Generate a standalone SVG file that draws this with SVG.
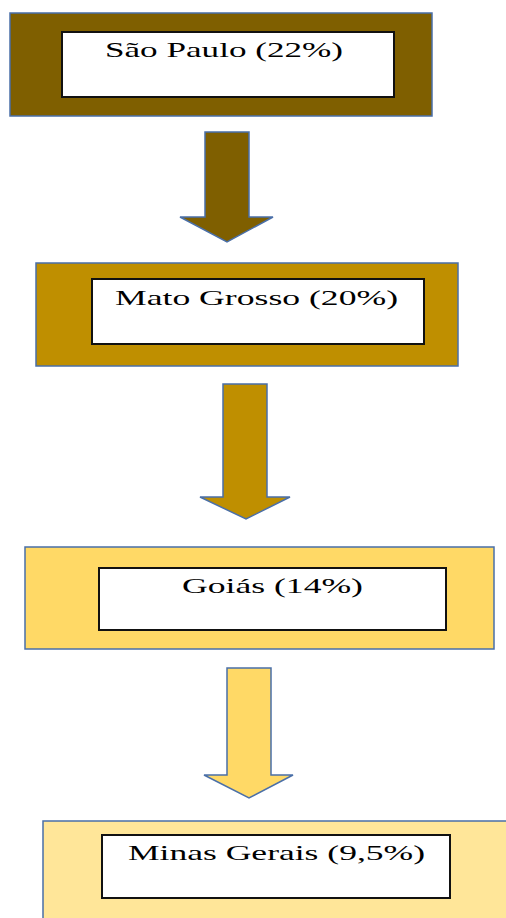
<svg xmlns="http://www.w3.org/2000/svg" width="506" height="918" viewBox="0 0 506 918">
<defs>
<style>
.outer{stroke:#4A6FA8;stroke-width:1.5}
.inner{fill:#ffffff;stroke:#111111;stroke-width:2}
.arrow{stroke:#4A6FA8;stroke-width:1.5;stroke-linejoin:miter}
</style>
</defs>
<rect width="506" height="918" fill="#ffffff"/>
<g id="connectors">
<path class="arrow" fill="#7F5F00" d="M205,132 H249 V217 H273 L227,242 L180,217 H205 Z"/>
<path class="arrow" fill="#BF8F00" d="M223,384 H267 V497 H290 L246,519 L200,497 H223 Z"/>
<path class="arrow" fill="#FFD966" d="M227,668 H271 V775 H293 L249,798 L204,775 H227 Z"/>
</g>
<g id="node-sao-paulo">
<rect class="outer" x="10" y="13" width="422" height="103" fill="#7F5F00"/>
<rect class="inner" x="62" y="32" width="332" height="65"/>
<text x="105" y="57" font-family="Liberation Serif" font-size="21" textLength="238" lengthAdjust="spacingAndGlyphs">São Paulo (22%)</text>
</g>
<g id="node-mato-grosso">
<rect class="outer" x="36" y="263" width="422" height="103" fill="#BF8F00"/>
<rect class="inner" x="92" y="279" width="332" height="65"/>
<text x="115" y="305" font-family="Liberation Serif" font-size="21" textLength="283" lengthAdjust="spacingAndGlyphs">Mato Grosso (20%)</text>
</g>
<g id="node-goias">
<rect class="outer" x="25" y="547" width="469" height="102" fill="#FFD966"/>
<rect class="inner" x="99" y="568" width="347" height="62"/>
<text x="182" y="593" font-family="Liberation Serif" font-size="21" textLength="181" lengthAdjust="spacingAndGlyphs">Goiás (14%)</text>
</g>
<g id="node-minas-gerais">
<rect class="outer" x="43" y="821" width="480" height="110" fill="#FFE699"/>
<rect class="inner" x="102" y="835" width="348" height="63"/>
<text x="128" y="860" font-family="Liberation Serif" font-size="21" textLength="297" lengthAdjust="spacingAndGlyphs">Minas Gerais (9,5%)</text>
</g>
</svg>
